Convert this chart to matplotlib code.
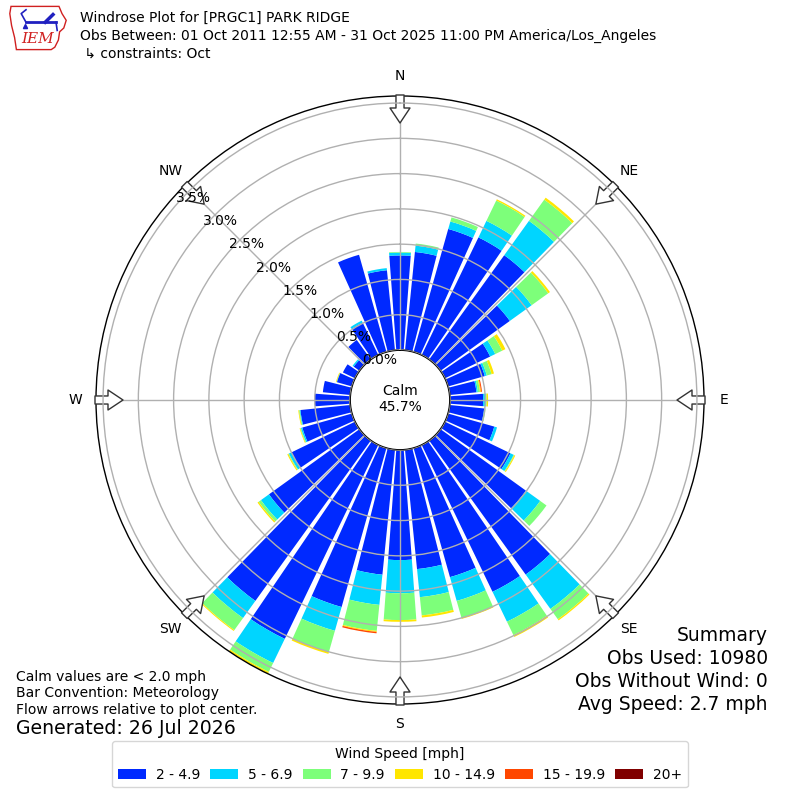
#!/usr/bin/env python3
"""Windrose plot for [PRGC1] PARK RIDGE (October obs), drawn in the IEM style.

Saves out.png (800x800).
"""

import numpy as np
import matplotlib
matplotlib.use("Agg")
import matplotlib.pyplot as plt
from matplotlib.patches import Polygon

# direction bins (deg, meteorological: where the wind comes from)
directions = [0, 10, 20, 30, 40, 50, 60, 70, 80, 90, 100, 110,
              120, 130, 140, 150, 160, 170, 180, 190, 200, 210, 220, 230,
              240, 250, 260, 270, 280, 290, 300, 310, 320, 330, 340, 350]

speed_labels = ["2 - 4.9", "5 - 6.9", "7 - 9.9", "10 - 14.9", "15 - 19.9", "20+"]

# frequency in percent per speed bin, one value per direction
pct_2_5 = [1.34, 1.40, 1.81, 1.85, 1.82, 1.21, 0.71, 0.54, 0.38, 0.47, 0.49, 0.68,
           1.03, 1.49, 2.34, 2.31, 1.90, 1.70, 1.56, 1.78, 2.34, 3.05, 2.80, 1.58,
           1.00, 0.73, 0.71, 0.50, 0.39, 0.22, 0.19, 0.10, 0.34, 0.51, 1.43, 1.14]
pct_5_7 = [0.04, 0.09, 0.11, 0.26, 0.60, 0.38, 0.08, 0.03, 0.02, 0.04, 0.01, 0.04,
           0.05, 0.25, 0.60, 0.47, 0.35, 0.40, 0.47, 0.43, 0.35, 0.38, 0.30, 0.14,
           0.04, 0.02, 0.01, 0.00, 0.00, 0.005, 0.00, 0.02, 0.00, 0.03, 0.00, 0.03]
pct_7_10 = [0.01, 0.03, 0.06, 0.32, 0.37, 0.29, 0.11, 0.07, 0.03, 0.01, 0.01, 0.00,
            0.01, 0.11, 0.18, 0.21, 0.25, 0.26, 0.38, 0.37, 0.31, 0.14, 0.21, 0.04,
            0.01, 0.01, 0.01, 0.00, 0.00, 0.00, 0.00, 0.00, 0.00, 0.00, 0.00, 0.00]
pct_10_15 = [0.00, 0.00, 0.00, 0.02, 0.035, 0.03, 0.05, 0.035, 0.015, 0.02, 0.00, 0.00,
             0.015, 0.00, 0.02, 0.03, 0.015, 0.03, 0.025, 0.015, 0.03, 0.03, 0.015, 0.02,
             0.015, 0.01, 0.01, 0.00, 0.00, 0.01, 0.00, 0.00, 0.00, 0.00, 0.00, 0.00]
pct_15_20 = [0.00, 0.00, 0.00, 0.00, 0.00, 0.00, 0.00, 0.00, 0.014, 0.00, 0.00, 0.00,
             0.00, 0.00, 0.00, 0.00, 0.00, 0.00, 0.00, 0.02, 0.00, 0.00, 0.00, 0.00,
             0.00, 0.00, 0.00, 0.00, 0.00, 0.00, 0.00, 0.00, 0.00, 0.00, 0.00, 0.00]
pct_20 = [0.0] * 36

rtick_values = [0.0, 0.5, 1.0, 1.5, 2.0, 2.5, 3.0, 3.5]
compass_angles = [0, 45, 90, 135, 180, 225, 270, 315]
compass_names = ["N", "NE", "E", "SE", "S", "SW", "W", "NW"]

calm_pct = 45.7
obs_used = 10980
obs_without_wind = 0
avg_speed = 2.7

title_lines = [
    "Windrose Plot for [PRGC1] PARK RIDGE",
    "Obs Between: 01 Oct 2011 12:55 AM - 31 Oct 2025 11:00 PM America/Los_Angeles",
    " \u21b3 constraints: Oct",
]


def draw_logo(fig):
    # rough IEM logo: state outline, blue symbol and red italic letters
    ax = fig.add_axes([8 / 800, 1 - 52 / 800, 60 / 800, 48 / 800])
    ax.set_xlim(0, 1)
    ax.set_ylim(0, 1)
    ax.axis("off")
    outline = [(0.05, 0.95), (0.85, 0.95), (0.9, 0.8), (0.97, 0.66), (0.93, 0.5),
               (0.86, 0.42), (0.84, 0.25), (0.78, 0.1), (0.72, 0.05), (0.14, 0.05),
               (0.11, 0.3), (0.06, 0.55), (0.03, 0.8)]
    ax.add_patch(Polygon(outline, closed=True, fill=False, ec="#d02020", lw=1.0))
    ax.plot([0.3, 0.8], [0.62, 0.62], color="#2020c0", lw=2)
    ax.plot([0.3, 0.22, 0.3], [0.62, 0.8, 0.88], color="#2020c0", lw=1.2)
    ax.plot([0.62, 0.75], [0.62, 0.78], color="#2020c0", lw=2.5)
    ax.plot([0.8, 0.82], [0.62, 0.45], color="#2020c0", lw=1.2)
    ax.plot([0.28], [0.55], marker="^", color="#2020c0", ms=3)
    ax.text(0.5, 0.27, "IEM", color="#d02020", ha="center", va="center",
            fontsize=11, style="italic", family="DejaVu Serif")


def main():
    bins = [pct_2_5, pct_5_7, pct_7_10, pct_10_15, pct_15_20, pct_20]
    colors = plt.get_cmap("jet")(np.linspace(0, 1, len(bins) + 1)[1:])

    totals = np.sum(np.array(bins), axis=0)
    rmax = totals.max()
    outer_px = 304.0
    hole = 50.0 / outer_px  # calm circle as part of the radius
    rorigin = -rmax * hole / (1 - hole)

    def px_to_r(px):
        return rorigin + px / outer_px * (rmax - rorigin)

    fig = plt.figure(figsize=(8, 8), dpi=100)
    ax = fig.add_axes([96 / 800, 96 / 800, 608 / 800, 608 / 800], projection="polar")
    ax.set_theta_zero_location("N")
    ax.set_theta_direction(-1)

    theta = np.deg2rad(directions)
    width = np.deg2rad(10) * 0.85
    bottom = np.zeros(len(directions))
    handles = []
    for vals, color, label in zip(bins, colors, speed_labels):
        vals = np.asarray(vals, dtype=float)
        bc = ax.bar(theta, vals, width=width, bottom=bottom, color=color,
                    edgecolor="none", linewidth=0, label=label)
        handles.append(bc)
        bottom += vals

    ax.set_ylim(0, rmax)
    ax.set_rorigin(rorigin)
    ax.set_yticks(rtick_values)
    ax.set_yticklabels([f"{v:.1f}%" for v in rtick_values], fontsize=10)
    ax.set_rlabel_position(311)

    ax.set_xticks(np.deg2rad(compass_angles))
    ax.set_xticklabels(compass_names, fontsize=10)
    ax.tick_params(axis="x", pad=7.5, length=0)
    ax.grid(True, color="#b0b0b0", lw=1.0)
    ax.spines["polar"].set_linewidth(1.0)
    ax.spines["inner"].set_linewidth(1.3)
    # radius labels (and rings) go on top of the rim arrows
    ax.yaxis.set_zorder(6)

    # hollow flow arrows on the rim, pointing to the centre
    for ang in compass_angles:
        ax.annotate("", xy=(np.deg2rad(ang), px_to_r(277)),
                    xytext=(np.deg2rad(ang), px_to_r(305)),
                    arrowprops=dict(arrowstyle="simple,head_length=0.54,head_width=0.72,tail_width=0.29",
                                    mutation_scale=20, fc="white", ec="#333333", lw=1,
                                    shrinkA=0, shrinkB=0),
                    annotation_clip=False, zorder=5)

    ax.text(0.5, 0.502, f"Calm\n{calm_pct:.1f}%", transform=ax.transAxes,
            ha="center", va="center", fontsize=10)

    # header
    for i, line in enumerate(title_lines):
        fig.text(0.1, 0.9775 - i * 0.0225, line, fontsize=10, va="center", ha="left")
    draw_logo(fig)

    # footnotes
    fig.text(0.02, 0.154, "Calm values are < 2.0 mph", fontsize=10, va="center")
    fig.text(0.02, 0.134, "Bar Convention: Meteorology", fontsize=10, va="center")
    fig.text(0.02, 0.1125, "Flow arrows relative to plot center.", fontsize=10, va="center")
    fig.text(0.02, 0.089, "Generated: 26 Jul 2026", fontsize=13.6, va="center")

    summary = ["Summary", f"Obs Used: {obs_used}", f"Obs Without Wind: {obs_without_wind}",
               f"Avg Speed: {avg_speed} mph"]
    for i, line in enumerate(summary):
        fig.text(0.96, 0.206 - i * 0.029, line, fontsize=13.5, va="center", ha="right")

    fig.legend(handles, speed_labels, loc="lower center", bbox_to_anchor=(0.5, 0.007),
               ncol=6, title="Wind Speed [mph]", fontsize=10, title_fontsize=10,
               handletextpad=0.7, columnspacing=0.75)

    fig.savefig("out.png", dpi=100)


if __name__ == "__main__":
    main()
